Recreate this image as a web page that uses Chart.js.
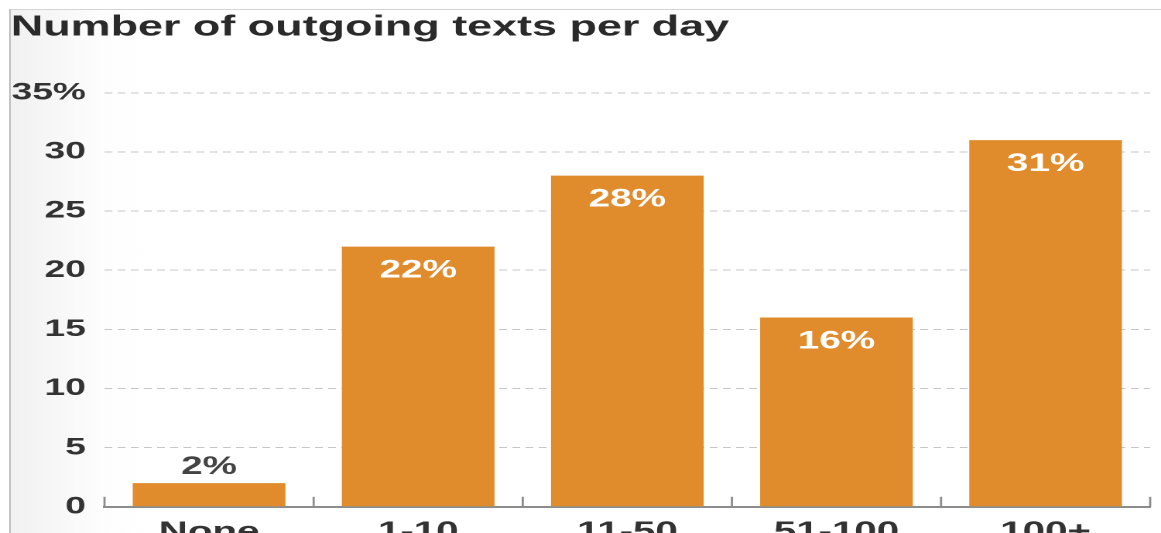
<!DOCTYPE html>
<html>
<head>
<meta charset="utf-8">
<script src="https://cdn.jsdelivr.net/npm/chart.js@4.4.1/dist/chart.umd.min.js"></script>
<style>
    html, body { margin: 0; padding: 0; background: #fff; }
    #wrap { position: relative; width: 1161px; height: 533px; overflow: hidden; }
    #frame {
        position: absolute; left: 9px; top: 9px; right: 0; bottom: 0;
        border-top: 1px solid #d4d4d4;
        border-left: 2px solid #c4c4c4;
        background: linear-gradient(to right, #f1f1f1, #fdfdfd 90px, #fff 140px);
    }
    #chart { position: absolute; left: 0; top: 0; }
</style>
</head>
<body>
<div id="wrap">
    <div id="frame"></div>
    <!-- drawn narrow and stretched wide, like the original picture -->
    <canvas id="chart" width="750" height="560" style="width:1161px;height:560px"></canvas>
</div>
<script>
// chart data
const categories = ['None', '1-10', '11-50', '51-100', '100+'];
const shares = [2, 22, 28, 16, 31];
const yTickValues = [0, 5, 10, 15, 20, 25, 30, 35];

const barColor = '#E08C2D';
const textColor = '#333333';
const fontFamily = "'Liberation Sans', Arial, sans-serif";

// value labels on the bars
const barLabels = {
    id: 'barLabels',
    afterDatasetsDraw(chart) {
        const ctx = chart.ctx;
        const meta = chart.getDatasetMeta(0);
        ctx.save();
        ctx.font = 'bold 25px ' + fontFamily;
        ctx.textAlign = 'center';
        ctx.textBaseline = 'middle';
        meta.data.forEach((bar, i) => {
            const v = shares[i];
            if (v >= 5) {
                ctx.fillStyle = '#ffffff';
                ctx.fillText(v + '%', bar.x, bar.y + 24);
            } else {
                ctx.fillStyle = '#444444';
                ctx.fillText(v + '%', bar.x, bar.y - 16);
            }
        });
        ctx.restore();
    }
};

// small upward tick marks between the categories
const boundaryTicks = {
    id: 'boundaryTicks',
    afterDraw(chart) {
        const x = chart.scales.x;
        const y = chart.scales.y;
        const ctx = chart.ctx;
        const n = categories.length;
        ctx.save();
        ctx.strokeStyle = '#8c8c8c';
        ctx.lineWidth = 1.4;
        for (let i = 0; i <= n; i++) {
            const px = x.left + i * x.width / n;
            ctx.beginPath();
            ctx.moveTo(px, y.bottom);
            ctx.lineTo(px, y.bottom - 10);
            ctx.stroke();
        }
        ctx.restore();
    }
};

new Chart(document.getElementById('chart'), {
    type: 'bar',
    data: {
        labels: categories,
        datasets: [{
            data: shares,
            backgroundColor: barColor,
            borderWidth: 0,
            barPercentage: 0.73,
            categoryPercentage: 1.0
        }]
    },
    options: {
        responsive: false,
        animation: false,
        devicePixelRatio: 2,
        layout: {
            padding: { left: 7, right: 7, top: 0, bottom: 10 }
        },
        plugins: {
            legend: { display: false },
            tooltip: { enabled: false },
            title: {
                display: true,
                text: 'Number of outgoing texts per day',
                align: 'start',
                color: '#2a2a2a',
                font: { family: fontFamily, size: 29, weight: 'bold' },
                padding: { top: 10, bottom: 48 }
            }
        },
        scales: {
            x: {
                grid: { display: false },
                border: { display: true, color: '#8c8c8c', width: 2 },
                ticks: {
                    color: textColor,
                    padding: 2,
                    font: { family: fontFamily, size: 26, weight: 'bold' }
                }
            },
            y: {
                min: 0,
                max: 35,
                afterBuildTicks(axis) {
                    axis.ticks = yTickValues.map(v => ({ value: v }));
                },
                afterFit(axis) {
                    axis.width = 60.5;
                },
                grid: {
                    color: '#c6c6c6',
                    lineWidth: 1,
                    drawTicks: false
                },
                border: { display: false, dash: [5, 3.5] },
                ticks: {
                    color: textColor,
                    padding: 12,
                    font: { family: fontFamily, size: 24, weight: 'bold' },
                    callback: v => v === 35 ? '35%' : String(v)
                }
            }
        }
    },
    plugins: [barLabels, boundaryTicks]
});
</script>
</body>
</html>
